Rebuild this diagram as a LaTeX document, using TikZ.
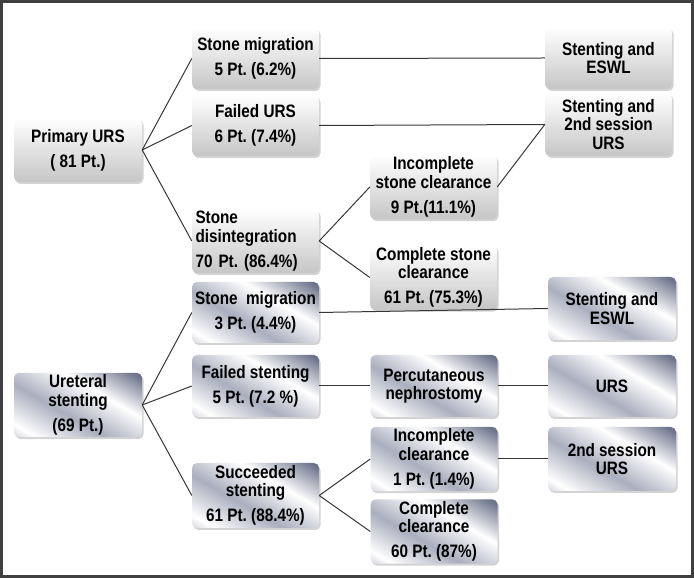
\documentclass[tikz,border=0pt]{standalone}
\usepackage{fontspec}
\setmainfont{Liberation Sans}[FakeStretch=0.85]
\usepackage{tikz}
\usetikzlibrary{shadows}
\definecolor{metalA}{RGB}{108,114,138}
\definecolor{metalB}{RGB}{170,174,190}
\definecolor{linkgray}{RGB}{55,55,55}
\pgfdeclarehorizontalshading{metalshade}{100bp}{color(0bp)=(metalA); color(22bp)=(white); color(42bp)=(metalB); color(62bp)=(white); color(82bp)=(metalA); color(100bp)=(metalB)}
\frenchspacing

\begin{document}
\begin{tikzpicture}[x=1pt, y=1pt,
		box/.style={minimum width=127pt, minimum height=62pt, inner sep=2pt, rounded corners=5pt, align=center, font=\bfseries\fontsize{18}{18.5}\selectfont},
		plainbox/.style={box, top color=white, bottom color=gray!45, drop shadow={shadow xshift=1.5pt, shadow yshift=-2pt, opacity=0.35, fill=gray}},
		metalbox/.style={box, shading=metalshade, shading angle=60, drop shadow={shadow xshift=1.5pt, shadow yshift=-2pt, opacity=0.35, fill=gray}},
		link/.style={line width=1pt, draw=linkgray}]
		\useasboundingbox (0,0) rectangle (694,578);
		% Frame
		\draw[line width=3pt, draw=black!75] (1.5,1.5) rectangle (692.5,576.5);
		
		% Primary URS
		\node[plainbox, minimum width=128pt, minimum height=64pt] (prim) at (78,428) {Primary URS\\[6.5pt]( 81 Pt.)};
		\node[plainbox, minimum height=61pt] (sm1) at (255.5,519.5) {Stone migration\\[6.5pt]5 Pt. (6.2\%)};
		\node[plainbox, minimum height=61pt] (furs) at (255.5,452.5) {Failed URS\\[6.5pt]6 Pt. (7.4\%)};
		\node[plainbox, minimum height=64pt, align=left, text width=120pt] (sdis) at (255.5,337) {Stone\\disintegration\\[6.5pt]\mbox{70 Pt. (86.4\%)}};
		\node[plainbox, minimum height=64pt] (isc) at (433.5,391) {Incomplete\\stone clearance\\[6.5pt]9 Pt.(11.1\%)};
		\node[plainbox, minimum height=61pt] (csc) at (433.5,300.5) {Complete stone\\clearance\\[6.5pt]61 Pt. (75.3\%)};
		\node[plainbox] (se1) at (608.5,520) {Stenting and\\ESWL};
		\node[plainbox, minimum height=63pt] (s2u) at (608.5,453.5) {Stenting and\\2nd session\\URS};
		
		% Ureteral stenting
		\node[metalbox, minimum width=128pt, minimum height=64pt] (ure) at (78,173) {Ureteral\\stenting\\[6.5pt](69 Pt.)};
		\node[metalbox, minimum height=61pt] (sm2) at (255.5,265.5) {Stone~ migration\\[6.5pt]3 Pt. (4.4\%)};
		\node[metalbox] (fst) at (255.5,192) {Failed stenting\\[6.5pt]5 Pt. (7.2 \%)};
		\node[metalbox, minimum height=65pt] (sst) at (255.5,82.5) {Succeeded\\stenting\\[6.5pt]61 Pt. (88.4\%)};
		\node[metalbox, minimum width=128pt, minimum height=63pt] (se2) at (612,269.5) {Stenting and\\ESWL};
		\node[metalbox] (pcn) at (434,192) {Percutaneous\\nephrostomy};
		\node[metalbox, minimum width=128pt] (urs) at (612,192) {URS};
		\node[metalbox, minimum height=64pt] (icl) at (434,119) {Incomplete\\clearance\\[6.5pt]1 Pt. (1.4\%)};
		\node[metalbox, minimum width=128pt, minimum height=64pt] (u2s) at (612,119) {2nd session\\URS};
		\node[metalbox, minimum height=63pt] (ccl) at (434,46.5) {Complete\\clearance\\[6.5pt]60 Pt. (87\%)};
		
		% Links
		\draw[link] (prim.east) -- (sm1.west);
		\draw[link] (prim.east) -- (furs.west);
		\draw[link] (prim.east) -- (sdis.west);
		\draw[link] (sm1.east) -- (se1.west);
		\draw[link] (furs.east) -- (s2u.west);
		\draw[link] (sdis.east) -- (isc.west);
		\draw[link] (sdis.east) -- (csc.west);
		\draw[link] (isc.east) -- (s2u.west);
		\draw[link] (ure.east) -- (sm2.west);
		\draw[link] (ure.east) -- (fst.west);
		\draw[link] (ure.east) -- (sst.west);
		\draw[link] (sm2.east) -- (se2.west);
		\draw[link] (fst.east) -- (pcn.west);
		\draw[link] (pcn.east) -- (urs.west);
		\draw[link] (sst.east) -- (icl.west);
		\draw[link] (sst.east) -- (ccl.west);
		\draw[link] (icl.east) -- (u2s.west);
	\end{tikzpicture}
\end{document}
